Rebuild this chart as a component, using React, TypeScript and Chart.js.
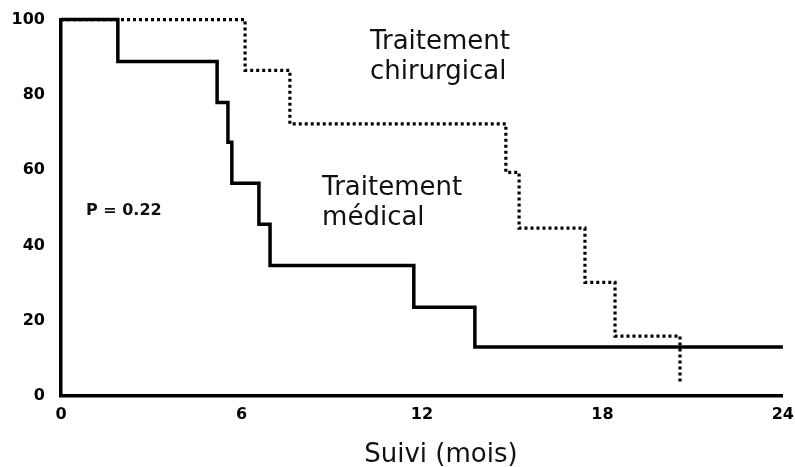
import React, { useEffect, useRef } from "react";
import { Chart, registerables } from "chart.js";

Chart.register(...registerables);

// ---- data ----
const xTicks = [0, 6, 12, 18, 24];
const yTicks = [0, 20, 40, 60, 80, 100];

const medicalMonths = [0, 1.89, 5.19, 5.55, 5.68, 6.58, 6.95, 11.73, 13.76, 24];
const medicalSurvival = [100, 88.9, 78.0, 67.4, 56.5, 45.6, 34.7, 23.6, 13.0, 13.0];

const surgicalMonths = [0, 6.12, 7.61, 14.79, 15.23, 17.42, 18.42, 20.58];
const surgicalSurvival = [100, 86.5, 72.3, 59.4, 44.6, 30.2, 15.9, 3.2];

const xAxisTitle = "Suivi (mois)";
const pValueText = "P = 0.22";
const surgicalLabel = ["Traitement", "chirurgical"];
const medicalLabel = ["Traitement", "médical"];

// ---- text placement (data coordinates) and styles ----
type TextLabel = {
  lines: string[];
  x: number;
  y: number;
  align: CanvasTextAlign;
  font: string;
  lineStep: number;
};

const textLabels: TextLabel[] = [
  { lines: surgicalLabel, x: 10.27, y: 92.3, align: "left", font: "26px 'DejaVu Sans'", lineStep: 30 },
  { lines: medicalLabel, x: 8.68, y: 53.3, align: "left", font: "26px 'DejaVu Sans'", lineStep: 30 },
  { lines: [pValueText], x: 0.83, y: 48.0, align: "left", font: "bold 16px 'DejaVu Sans'", lineStep: 0 },
  { lines: [xAxisTitle], x: 12.63, y: -17.6, align: "center", font: "26px 'DejaVu Sans'", lineStep: 0 },
];

const textPlugin = {
  id: "kmText",
  afterDraw(chart: any) {
    const { ctx, scales } = chart;
    const xs = scales.x;
    const ys = scales.y;
    ctx.save();
    ctx.fillStyle = "#111";
    ctx.textBaseline = "alphabetic";
    for (const t of textLabels) {
      ctx.font = t.font;
      ctx.textAlign = t.align;
      const px = xs.getPixelForValue(t.x);
      const py = ys.getPixelForValue(t.y);
      t.lines.forEach((line, i) => ctx.fillText(line, px, py + i * t.lineStep));
    }
    ctx.restore();
  },
};

// canvas is slightly larger than the page so the plot area lands where the reference has it
const CANVAS_W = 803;
const CANVAS_H = 473;
const CANVAS_TOP = -6;

export default function App() {
  const ref = useRef<HTMLCanvasElement | null>(null);

  useEffect(() => {
    if (!ref.current) return;
    const tickFont = { family: "DejaVu Sans", size: 16, weight: "bold" as const };
    const chart = new Chart(ref.current, {
      type: "line",
      data: {
        datasets: [
          {
            label: "Traitement médical",
            data: medicalMonths.map((m, i) => ({ x: m, y: medicalSurvival[i] })),
            borderColor: "#000",
            borderWidth: 3.5,
            stepped: "before",
            pointRadius: 0,
            fill: false,
            clip: 6,
            order: 0,
          },
          {
            label: "Traitement chirurgical",
            data: surgicalMonths.map((m, i) => ({ x: m, y: surgicalSurvival[i] })),
            borderColor: "#000",
            borderWidth: 3.2,
            borderDash: [3, 3],
            borderCapStyle: "butt",
            stepped: "before",
            pointRadius: 0,
            fill: false,
            clip: 6,
            order: 1,
          },
        ],
      },
      options: {
        animation: false,
        responsive: false,
        devicePixelRatio: 1,
        layout: { padding: { top: 13, right: 4, left: 0, bottom: 0 } },
        plugins: { legend: { display: false }, tooltip: { enabled: false } },
        scales: {
          x: {
            type: "linear",
            min: 0,
            max: 24,
            afterFit: (s: any) => {
              s.height = 71 + CANVAS_H + CANVAS_TOP - 467;
            },
            afterBuildTicks: (s: any) => {
              s.ticks = xTicks.map((v) => ({ value: v }));
            },
            ticks: { color: "#000", font: tickFont, padding: 9, maxRotation: 0 },
            grid: { display: false, drawTicks: false },
            border: { display: true, color: "#000", width: 3.5 },
          },
          y: {
            type: "linear",
            min: 0,
            max: 100,
            afterFit: (s: any) => {
              s.width = 61;
            },
            afterBuildTicks: (s: any) => {
              s.ticks = yTicks.map((v) => ({ value: v }));
            },
            ticks: { color: "#000", font: tickFont, padding: 16 },
            grid: { display: false, drawTicks: false },
            border: { display: true, color: "#000", width: 3.5 },
          },
        },
      },
      plugins: [textPlugin],
    });
    return () => chart.destroy();
  }, []);

  return (
    <div
      style={{
        position: "fixed",
        left: 0,
        top: 0,
        width: 795,
        height: 467,
        overflow: "hidden",
        background: "#fff",
      }}
    >
      <canvas
        ref={ref}
        width={CANVAS_W}
        height={CANVAS_H}
        style={{ position: "absolute", left: 0, top: CANVAS_TOP }}
      />
    </div>
  );
}
